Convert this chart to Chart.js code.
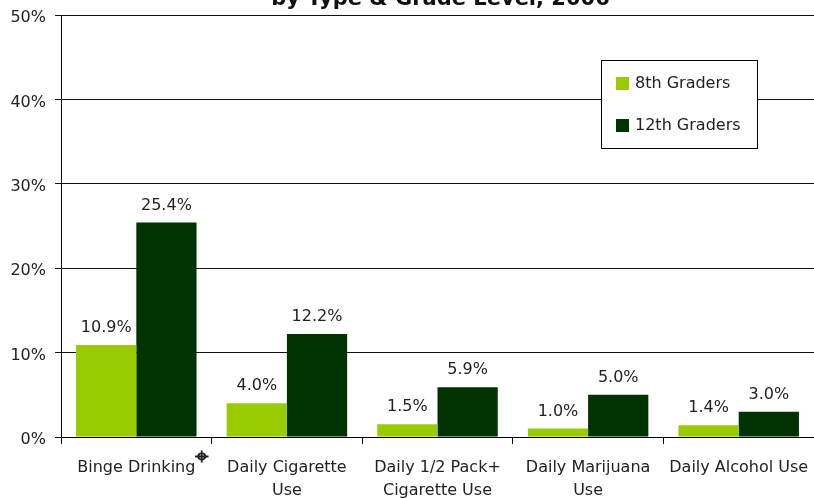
<!DOCTYPE html>
<html>
<head>
<meta charset="utf-8">
<script src="https://cdn.jsdelivr.net/npm/chart.js@4"></script>
<style>
  html, body { margin: 0; padding: 0; background: #fff; overflow: hidden; }
  #wrap { width: 814px; height: 498px; }
</style>
</head>
<body>
<div id="wrap"><canvas id="chart" width="814" height="498"></canvas></div>
<script>
// Chart data
const titleText = 'by Type & Grade Level, 2006';
const categories = [
    ['Binge Drinking'],
    ['Daily Cigarette', 'Use'],
    ['Daily 1/2 Pack+', 'Cigarette Use'],
    ['Daily Marijuana', 'Use'],
    ['Daily Alcohol Use']
];
const footnoteMark = '\u2316';   // superscript on the first category
const seriesNames = ['8th Graders', '12th Graders'];
const grade8 = [10.9, 4.0, 1.5, 1.0, 1.4];
const grade12 = [25.4, 12.2, 5.9, 5.0, 3.0];
const seriesColors = ['#99cc00', '#003300'];
const yTicks = [0, 10, 20, 30, 40, 50];

const FONT = '"DejaVu Sans", Verdana, sans-serif';
const TEXT = '#222';

// Title (second line only, clipped at the top of the picture)
const titlePlugin = {
    id: 'clippedTitle',
    afterDraw(chart) {
        const ctx = chart.ctx;
        const area = chart.chartArea;
        ctx.save();
        ctx.font = 'bold 21px ' + FONT;
        ctx.fillStyle = '#111';
        ctx.textAlign = 'center';
        ctx.textBaseline = 'alphabetic';
        ctx.fillText(titleText, (area.left + area.right) / 2 + 3, 5);
        ctx.restore();
    }
};

// Superscript mark after the first category label
const footnotePlugin = {
    id: 'footnote',
    afterDraw(chart) {
        const ctx = chart.ctx;
        const x = chart.scales.x;
        ctx.save();
        ctx.font = '16px ' + FONT;
        const w = ctx.measureText(categories[0][0]).width;
        const px = x.getPixelForTick(0) + w / 2;
        ctx.font = 'bold 24px ' + FONT;
        ctx.fillStyle = TEXT;
        ctx.textAlign = 'left';
        ctx.textBaseline = 'middle';
        ctx.fillText(footnoteMark, px, 458);
        ctx.restore();
    }
};

// Value labels above each bar
const valueLabels = {
    id: 'valueLabels',
    afterDatasetsDraw(chart) {
        const ctx = chart.ctx;
        ctx.save();
        ctx.font = '16px ' + FONT;
        ctx.fillStyle = TEXT;
        ctx.textAlign = 'center';
        ctx.textBaseline = 'bottom';
        chart.data.datasets.forEach((ds, i) => {
            chart.getDatasetMeta(i).data.forEach((bar, j) => {
                ctx.fillText(ds.data[j].toFixed(1) + '%', bar.x, bar.y - 9);
            });
        });
        ctx.restore();
    }
};

// Boxed legend inside the plot
const boxLegend = {
    id: 'boxLegend',
    afterDraw(chart) {
        const ctx = chart.ctx;
        const bx = 601, by = 60, bw = 156, bh = 88;
        ctx.save();
        ctx.fillStyle = '#fff';
        ctx.fillRect(bx, by, bw, bh);
        ctx.strokeStyle = '#000';
        ctx.lineWidth = 1;
        ctx.strokeRect(bx + 0.5, by + 0.5, bw, bh);
        ctx.font = '16px ' + FONT;
        ctx.textBaseline = 'middle';
        chart.data.datasets.forEach((ds, i) => {
            const cy = by + 24 + i * 42;
            ctx.fillStyle = ds.backgroundColor;
            ctx.fillRect(bx + 15, cy - 7, 13, 13);
            ctx.fillStyle = TEXT;
            ctx.fillText(ds.label, bx + 34, cy);
        });
        ctx.restore();
    }
};

new Chart(document.getElementById('chart').getContext('2d'), {
    type: 'bar',
    data: {
        labels: categories,
        datasets: [
            { label: seriesNames[0], data: grade8, backgroundColor: seriesColors[0] },
            { label: seriesNames[1], data: grade12, backgroundColor: seriesColors[1] }
        ]
    },
    options: {
        responsive: false,
        animation: false,
        devicePixelRatio: 1,
        layout: { padding: { top: 15, left: 0, right: 0, bottom: 0 } },
        datasets: {
            bar: { categoryPercentage: 0.8, barPercentage: 1.0, borderWidth: 0 }
        },
        scales: {
            x: {
                offset: true,
                grid: {
                    offset: true,
                    drawOnChartArea: false,
                    color: '#000',
                    tickLength: 7
                },
                border: { color: '#000', width: 1 },
                ticks: {
                    color: TEXT,
                    padding: 13,
                    maxRotation: 0,
                    autoSkip: false,
                    font: { family: FONT, size: 16, lineHeight: 1.4 }
                },
                afterFit(scale) {
                    scale.height = 61;
                    scale.paddingLeft = 0;
                    scale.paddingRight = 0;
                }
            },
            y: {
                min: 0,
                max: 50,
                afterBuildTicks(scale) {
                    scale.ticks = yTicks.map(v => ({ value: v }));
                },
                grid: {
                    color: '#111',
                    tickLength: 6
                },
                border: { color: '#000', width: 1 },
                ticks: {
                    color: TEXT,
                    padding: 9,
                    labelOffset: 3,
                    font: { family: FONT, size: 16 },
                    callback: v => v + '%'
                },
                afterFit(scale) {
                    scale.width = 61;
                    scale.paddingTop = 0;
                    scale.paddingBottom = 0;
                }
            }
        },
        plugins: {
            legend: { display: false },
            title: { display: false },
            tooltip: { enabled: false }
        }
    },
    plugins: [valueLabels, boxLegend, titlePlugin, footnotePlugin]
});
</script>
</body>
</html>
